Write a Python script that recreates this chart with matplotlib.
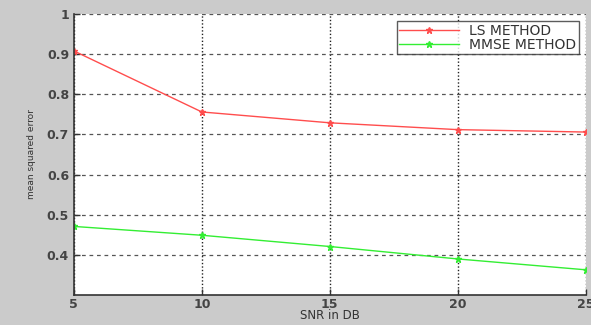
import numpy as np
import matplotlib.pyplot as plt

# SNR values and mean squared error for both estimators
snr = [5, 10, 15, 20, 25]
mse_ls = [0.908, 0.756, 0.729, 0.712, 0.706]
mse_mmse = [0.471, 0.449, 0.421, 0.390, 0.363]
yticks = [0.4, 0.5, 0.6, 0.7, 0.8, 0.9, 1]
ytick_labels = ['0.4', '0.5', '0.6', '0.7', '0.8', '0.9', '1']

fig = plt.figure(figsize=(5.91, 3.25), dpi=100, facecolor='#cbcbcb')
ax = fig.add_axes([0.125, 0.092, 0.866, 0.865])
ax.set_facecolor('white')

ax.plot(snr, mse_ls, color='#ff4d4d', lw=1.0, marker='*', ms=4.5, label='LS METHOD')
ax.plot(snr, mse_mmse, color='#33ee33', lw=1.0, marker='*', ms=4.5, label='MMSE METHOD')

ax.set_xlim(5, 25)
ax.set_ylim(0.3, 1)
ax.set_xticks(snr)
ax.set_yticks(yticks)
ax.set_yticklabels(ytick_labels)

# horizontal grid dashed, vertical grid dotted
ax.yaxis.grid(True, linestyle=(0, (3, 3)), color='#555555', lw=0.9)
ax.xaxis.grid(True, linestyle=(0, (1, 1.5)), color='#222222', lw=1.0)

ax.tick_params(direction='in', length=4, width=1, colors='#333333',
               labelsize=9, labelcolor='#444444')
ax.tick_params(axis='x', pad=2)
for lbl in ax.get_xticklabels() + ax.get_yticklabels():
    lbl.set_fontweight('bold')
for side in ['left', 'bottom']:
    ax.spines[side].set_color('#333333')
    ax.spines[side].set_linewidth(1.2)
for side in ['top', 'right']:
    ax.spines[side].set_visible(False)

ax.set_xlabel('SNR in DB', fontsize=8.5, color='#333333', labelpad=-1)
ax.set_ylabel('mean squared error', fontsize=6.5, color='#333333', labelpad=8)

leg = ax.legend(loc='upper right', fontsize=10, frameon=True, fancybox=False,
                edgecolor='#333333', borderpad=0.2, labelspacing=0.0,
                handlelength=4.3, handletextpad=0.7, borderaxespad=0.5)
leg.get_frame().set_linewidth(1.0)
for t in leg.get_texts():
    t.set_color('#333333')

fig.savefig('out.png', dpi=100, facecolor=fig.get_facecolor())
